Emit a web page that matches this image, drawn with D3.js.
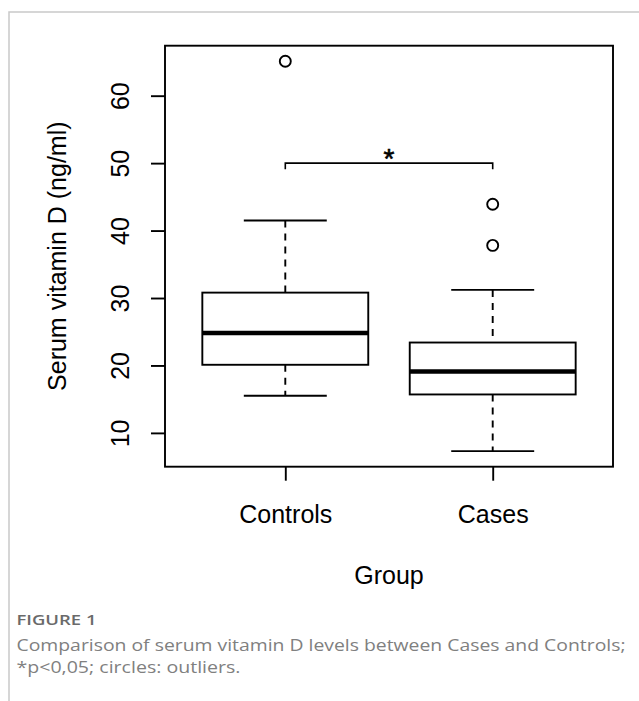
<!DOCTYPE html>
<html>
<head>
<meta charset="utf-8">
<script src="https://cdn.jsdelivr.net/npm/d3@7"></script>
<style>
  html, body { margin: 0; padding: 0; background: #fff; }
  svg { display: block; }
</style>
</head>
<body>
<svg id="chart" width="639" height="701"></svg>
<script>
// ---- data ----
const categories   = ["Controls", "Cases"];
const lowerWhisker = [15.5, 7.3];
const q1           = [20.1, 15.7];
const median       = [24.8, 19.1];
const q3           = [30.8, 23.4];
const upperWhisker = [41.5, 31.2];
const outliers     = [[65.1], [43.9, 37.8]];
const yTicks       = [10, 20, 30, 40, 50, 60];
const bracketValue = 50.0;
const bracketLabel = "*";
const yTitle = "Serum vitamin D (ng/ml)";
const xTitle = "Group";
const figureLabel = "FIGURE 1";
const captionLines = [
  "Comparison of serum vitamin D levels between Cases and Controls;",
  "*p<0,05; circles: outliers."
];

// ---- layout ----
const svg = d3.select("#chart");
const plot = { left: 165, right: 613, top: 45.7, bottom: 466.7 };
const FONT = "'Liberation Sans', Arial, Helvetica, sans-serif";
const CAPFONT = "'Open Sans', 'Noto Sans', sans-serif";
const FS = 25;
const LW = 1.9;

// page frame (thin grey rule, as in the published figure)
svg.append("path")
  .attr("d", `M9,701V12H639`)
  .attr("fill", "none")
  .attr("stroke", "#c9c9c9")
  .attr("stroke-width", 1.5);

// scales (R-style: 4% padding on data range, xlim = [0.5, n+0.5] padded 4%)
const allVals = [...lowerWhisker, ...upperWhisker, ...outliers.flat()];
const dMin = d3.min(allVals), dMax = d3.max(allVals);
const pad = (dMax - dMin) * 0.04;
const y = d3.scaleLinear().domain([dMin - pad, dMax + pad]).range([plot.bottom, plot.top]);
const xr = categories.length;
const xpad = xr * 0.04;
const x = d3.scaleLinear().domain([0.5 - xpad, xr + 0.5 + xpad]).range([plot.left, plot.right]);

const boxW = x(1.4) - x(1.0);   // half of 0.8 box width
const capW = boxW / 2;

const g = svg.append("g");

categories.forEach((c, i) => {
  const cx = x(i + 1);
  // whiskers (dashed)
  g.append("line").attr("x1", cx).attr("x2", cx)
    .attr("y1", y(upperWhisker[i])).attr("y2", y(q3[i]))
    .attr("stroke", "#000").attr("stroke-width", LW).attr("stroke-dasharray", "7,6");
  g.append("line").attr("x1", cx).attr("x2", cx)
    .attr("y1", y(q1[i])).attr("y2", y(lowerWhisker[i]))
    .attr("stroke", "#000").attr("stroke-width", LW).attr("stroke-dasharray", "7,6");
  // caps
  [upperWhisker[i], lowerWhisker[i]].forEach(v => {
    g.append("line").attr("x1", cx - capW).attr("x2", cx + capW)
      .attr("y1", y(v)).attr("y2", y(v))
      .attr("stroke", "#000").attr("stroke-width", LW);
  });
  // box
  g.append("rect")
    .attr("x", cx - boxW).attr("width", 2 * boxW)
    .attr("y", y(q3[i])).attr("height", y(q1[i]) - y(q3[i]))
    .attr("fill", "#fff").attr("stroke", "#000").attr("stroke-width", LW);
  // median
  g.append("line").attr("x1", cx - boxW).attr("x2", cx + boxW)
    .attr("y1", y(median[i])).attr("y2", y(median[i]))
    .attr("stroke", "#000").attr("stroke-width", 4.5);
  // outliers
  outliers[i].forEach(v => {
    g.append("circle").attr("cx", cx).attr("cy", y(v)).attr("r", 5.5)
      .attr("fill", "none").attr("stroke", "#000").attr("stroke-width", LW);
  });
});

// significance bracket
const by = y(bracketValue);
g.append("path")
  .attr("d", `M${x(1)},${by + 6}V${by}H${x(2)}V${by + 6}`)
  .attr("fill", "none").attr("stroke", "#000").attr("stroke-width", 1.6);
g.append("text")
  .attr("x", (x(1) + x(2)) / 2).attr("y", by + 5)
  .attr("text-anchor", "middle")
  .attr("font-family", FONT).attr("font-size", 28)
  .attr("stroke", "#000").attr("stroke-width", 0.6)
  .text(bracketLabel);

// plot frame
svg.append("rect")
  .attr("x", plot.left).attr("y", plot.top)
  .attr("width", plot.right - plot.left).attr("height", plot.bottom - plot.top)
  .attr("fill", "none").attr("stroke", "#000").attr("stroke-width", LW);

// y axis
const yAxis = svg.append("g")
  .attr("transform", `translate(${plot.left},0)`)
  .call(d3.axisLeft(y).tickValues(yTicks).tickSize(14).tickFormat(d3.format("d")));
yAxis.select(".domain").remove();
yAxis.selectAll(".tick line").attr("stroke", "#000").attr("stroke-width", LW);
yAxis.selectAll(".tick text")
  .attr("transform", "rotate(-90)")
  .attr("x", 0).attr("y", -36).attr("dy", 0)
  .attr("text-anchor", "middle")
  .attr("font-family", FONT).attr("font-size", FS).attr("fill", "#000");

// x axis
const xAxis = svg.append("g")
  .attr("transform", `translate(0,${plot.bottom})`)
  .call(d3.axisBottom(x).tickValues(categories.map((c, i) => i + 1)).tickSize(14)
    .tickFormat(d => categories[d - 1]));
xAxis.select(".domain").remove();
xAxis.selectAll(".tick line").attr("stroke", "#000").attr("stroke-width", LW);
xAxis.selectAll(".tick text")
  .attr("y", 56.6).attr("dy", 0)
  .attr("font-family", FONT).attr("font-size", FS).attr("fill", "#000");

// axis titles
svg.append("text")
  .attr("transform", `translate(66,${(plot.top + plot.bottom) / 2}) rotate(-90)`)
  .attr("text-anchor", "middle")
  .attr("font-family", FONT).attr("font-size", FS)
  .text(yTitle);
svg.append("text")
  .attr("x", (plot.left + plot.right) / 2).attr("y", 584)
  .attr("text-anchor", "middle")
  .attr("font-family", FONT).attr("font-size", FS)
  .text(xTitle);

// caption (wide humanist face emulated by a horizontal stretch)
svg.append("text")
  .attr("x", 16.5).attr("y", 625)
  .attr("font-family", CAPFONT)
  .attr("font-size", 14).attr("font-weight", 600)
  .attr("fill", "#6a6a6a")
  .attr("textLength", 80).attr("lengthAdjust", "spacingAndGlyphs")
  .text(figureLabel);
const capTargets = [609, 224];
captionLines.forEach((t, i) => {
  svg.append("text")
    .attr("x", 16.5).attr("y", 651 + i * 22)
    .attr("font-family", CAPFONT)
    .attr("font-size", 17).attr("font-weight", 400)
    .attr("fill", "#808080")
    .attr("textLength", capTargets[i]).attr("lengthAdjust", "spacingAndGlyphs")
    .text(t);
});
</script>
</body>
</html>
